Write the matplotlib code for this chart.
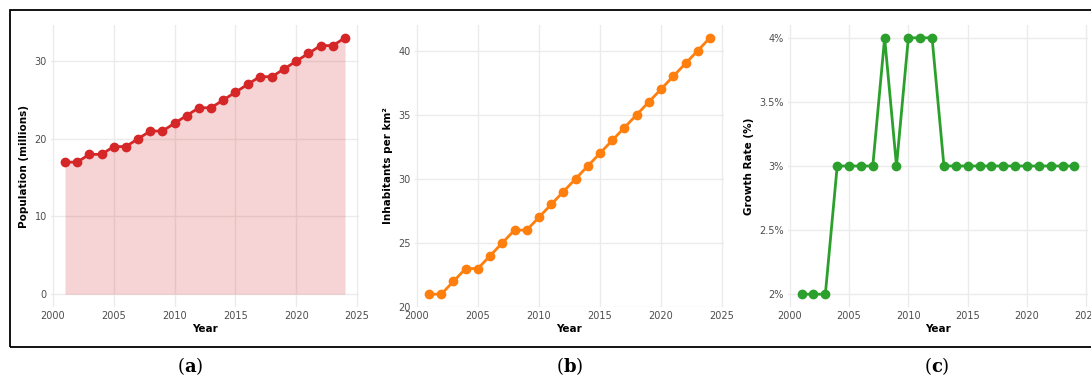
import matplotlib.pyplot as plt
from matplotlib.patches import Rectangle
from matplotlib.ticker import FuncFormatter

years = list(range(2001, 2025))
population = [17, 17, 18, 18, 19, 19, 20, 21, 21, 22, 23, 24,
              24, 25, 26, 27, 28, 28, 29, 30, 31, 32, 32, 33]
density = [21, 21, 22, 23, 23, 24, 25, 26, 26, 27, 28, 29,
           30, 31, 32, 33, 34, 35, 36, 37, 38, 39, 40, 41]
growth = [2, 2, 2, 3, 3, 3, 3, 4, 3, 4, 4, 4,
          3, 3, 3, 3, 3, 3, 3, 3, 3, 3, 3, 3]
panel_tags = ["a", "b", "c"]

plt.rcParams["mathtext.fontset"] = "dejavuserif"

fig = plt.figure(figsize=(10.91, 3.79), dpi=100)

# outer frame, right side runs off the canvas
fig.patches.append(Rectangle((10 / 1091, 1 - 347 / 379), 1.2, (347 - 10) / 379,
                             transform=fig.transFigure, fill=False,
                             edgecolor="black", linewidth=1.3))


def style(ax, ylabel):
    ax.set_facecolor("white")
    for s in ax.spines.values():
        s.set_visible(False)
    ax.grid(True, color="#ebebeb", linewidth=1.0)
    ax.set_axisbelow(True)
    ax.tick_params(length=0, labelsize=7, labelcolor="#4d4d4d", pad=3)
    ax.set_xlabel("Year", fontsize=7.5, fontweight="bold", labelpad=2)
    ax.set_ylabel(ylabel, fontsize=7.5, fontweight="bold", labelpad=4)
    ax.set_xlim(1999.85, 2025.15)
    ax.set_xticks([2000, 2005, 2010, 2015, 2020, 2025])


h = 282 / 379
b = 1 - 307 / 379

ax1 = fig.add_axes([51 / 1091, b, 308 / 1091, h])
ax1.fill_between(years, population, 0, color="#d62728", alpha=0.2, linewidth=0)
ax1.plot(years, population, color="#d62728", linewidth=2, marker="o", markersize=6)
style(ax1, "Population (millions)")
ax1.set_ylim(-1.65, 34.65)
ax1.set_yticks([0, 10, 20, 30])

ax2 = fig.add_axes([415 / 1091, b, 309 / 1091, h])
ax2.plot(years, density, color="#ff7f0e", linewidth=2, marker="o", markersize=6)
style(ax2, "Inhabitants per km²")
ax2.set_ylim(20, 42)
ax2.set_yticks([20, 25, 30, 35, 40])

ax3 = fig.add_axes([788 / 1091, b, 300 / 1091, h])
ax3.plot(years, growth, color="#2ca02c", linewidth=2, marker="o", markersize=6)
style(ax3, "Growth Rate (%)")
ax3.set_ylim(1.9, 4.1)
ax3.set_yticks([2, 2.5, 3, 3.5, 4])
ax3.yaxis.set_major_formatter(FuncFormatter(lambda v, p: f"{v:g}%"))

# panel tags under each chart: regular parentheses, bold letter
for x, tag in zip([190, 570, 937], panel_tags):
    fig.text(x / 1091, 1 - 366 / 379, "($\\mathbf{" + tag + "}$)",
             ha="center", va="center", fontsize=13, family="DejaVu Serif")

fig.savefig("out.png", dpi=100)
